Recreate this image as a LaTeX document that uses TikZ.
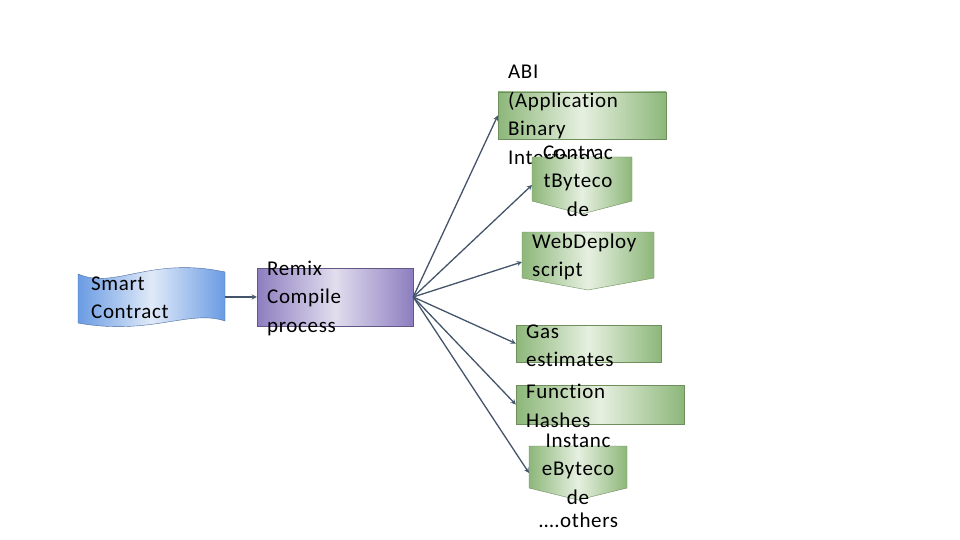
\documentclass[tikz,border=0pt]{standalone}
\usepackage{fontspec}
\setmainfont{Carlito}[LetterSpace=3,RawFeature=-liga]
\definecolor{gedge}{HTML}{8DB77A}
\definecolor{gmid}{HTML}{E6F0E0}
\definecolor{gline}{HTML}{6E8E5E}
\definecolor{pedge}{HTML}{8C7EC0}
\definecolor{pmid}{HTML}{E2DDEE}
\definecolor{bedge}{HTML}{6A9BE3}
\definecolor{bmid}{HTML}{E0EAF8}
\definecolor{arc}{HTML}{44546A}
\begin{document}
\begin{tikzpicture}[x=1pt,y=-1pt,
 txt/.style={inner sep=0pt,align=left,font=\fontsize{21}{28.5}\selectfont},
 ar/.style={draw=arc,line width=1.3pt,-stealth},
 green/.style={draw=gline,shading=axis,left color=gedge,right color=gedge,middle color=gmid,shading angle=90},
 box/.style={green,rectangle,inner sep=0pt}]
\useasboundingbox (0,0) rectangle (960,540);
% Smart contract tape
\path[draw=bedge!70!black,shading=axis,left color=bedge,right color=bedge,middle color=bmid,shading angle=90]
 (78,274) .. controls (115,290) and (150,256) .. (225,272) -- (225,321)
 .. controls (190,309) and (150,336) .. (78,323) -- cycle;
\coordinate (scR) at (225,297);
\node[txt,anchor=west] (sc) at (91,298) {Smart\\Contract};
% Remix
\node[draw=pedge!70!black,shading=axis,left color=pedge,right color=pedge,middle color=pmid,shading angle=90,minimum width=156pt,minimum height=58pt,inner sep=0pt] (remix) at (335,297) {};
\node[txt,anchor=west] (remixt) at (267,298) {Remix\\Compile\\process};
% ABI
\node[box,minimum width=168pt,minimum height=47pt] (abi) at (582,115.5) {};
\node[txt,anchor=west] (abit) at (508,116) {ABI\\(Application\\Binary\\Interface)};
% Contract bytecode
\path[green] (532,157) -- (632,157) -- (632,201) -- (582,214) -- (532,201) -- cycle;
\coordinate (cb) at (532,185);
\node[txt,align=center] (cbt) at (578,181) {Contrac\\tByteco\\de};
% WebDeploy
\path[green] (522,232) -- (654,232) -- (654,278) -- (588,290) -- (522,278) -- cycle;
\coordinate (wd) at (522,262);
\node[txt,anchor=west] (wdt) at (532,257) {WebDeploy\\script};
% Gas
\node[box,minimum width=145pt,minimum height=37pt] (gas) at (588.5,343.5) {};
\node[txt,anchor=west] (gast) at (526,346) {Gas\\estimates};
% Function
\node[box,minimum width=168pt,minimum height=39pt] (fn) at (600,404.5) {};
\node[txt,anchor=west] (fnt) at (526,406) {Function\\Hashes};
% Instance bytecode
\path[green] (529,446) -- (627,446) -- (627,488) -- (578,500) -- (529,488) -- cycle;
\coordinate (ib) at (529,473);
\node[txt,align=center] (ibt) at (578,469) {Instanc\\eByteco\\de};
\node[txt,anchor=west] (oth) at (539,520) {….others};
% arrows
\coordinate (rx) at (remix.east);
\draw[ar] (scR) -- (remix.west);
\draw[ar] (rx) -- (abi.west);
\draw[ar] (rx) -- (cb);
\draw[ar] (rx) -- (wd);
\draw[ar] (rx) -- (gas.west);
\draw[ar] (rx) -- (fn.west);
\draw[ar] (rx) -- (ib);
\end{tikzpicture}
\end{document}
